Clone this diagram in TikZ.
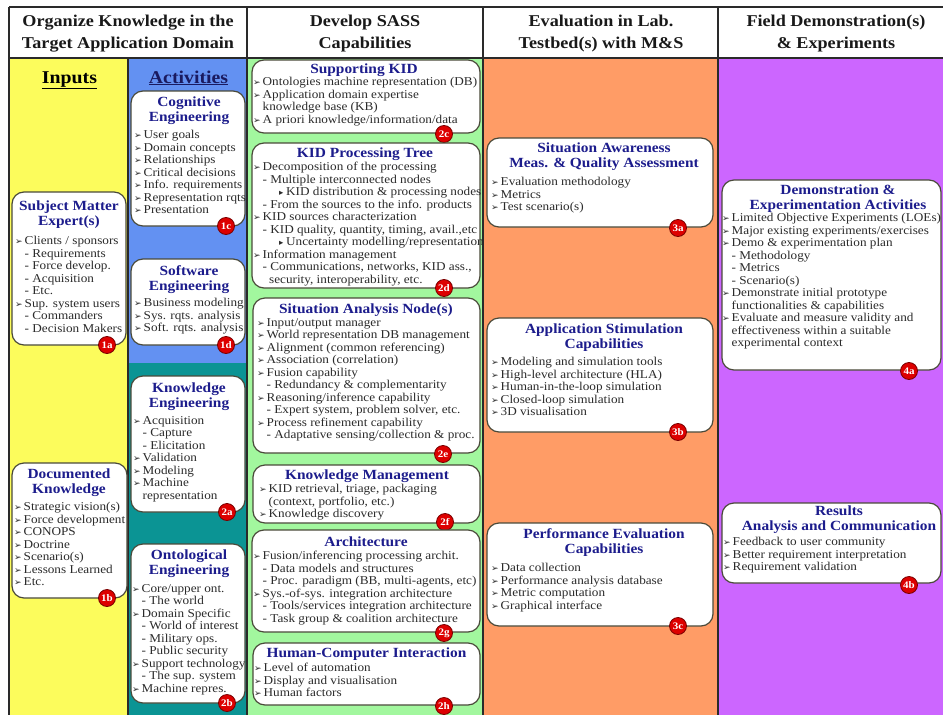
\documentclass[tikz,border=0pt]{standalone}
\usepackage{fontspec}
\setmainfont[FakeStretch=1.1]{Liberation Serif}
\newfontfamily\dvfont{DejaVu Sans}
\usetikzlibrary{fit}
\definecolor{cyellow}{HTML}{FCFC5C}
\definecolor{cblue}{HTML}{6391F2}
\definecolor{cteal}{HTML}{0B9494}
\definecolor{cgreen}{HTML}{A2F79E}
\definecolor{corange}{HTML}{FF9C66}
\definecolor{cpurple}{HTML}{CC66FF}
\definecolor{ttlblue}{HTML}{1C1C8C}
\definecolor{bodygray}{HTML}{2B2B2B}
\definecolor{cardline}{HTML}{4A4A3A}
\definecolor{badgered}{HTML}{DD0000}
\definecolor{badgedark}{HTML}{7A0000}
\definecolor{gridc}{HTML}{2A2A2A}
\definecolor{actnavy}{HTML}{1A1A60}
\newcommand\bl{\makebox[9.5pt][l]{\dvfont\fontsize{9}{9}\selectfont ➢}}
\newcommand\subi{\hspace*{9.5pt}}
\newcommand\contl{\hspace*{16pt}}
\newcommand\subsub{\hspace*{26pt}\makebox[7pt][l]{\dvfont\fontsize{8.5}{8.5}\selectfont ▸}}
\begin{document}
\begin{tikzpicture}[x=1pt,y=-1pt,
  gridline/.style={draw=gridc, line width=1.3pt},
  card/.style={draw=cardline, fill=white, rounded corners=12pt, line width=1.2pt, inner sep=0pt},
  ttl/.style={inner sep=0pt, anchor=north, align=center, text=ttlblue, font=\bfseries\fontsize{14}{15}\selectfont, execute at begin node=\strut},
  itemsx/.style={inner sep=0pt, anchor=north west, align=left, text=bodygray, font=\fontsize{12}{12.5}\selectfont, execute at begin node=\strut},
  badge/.style={circle, fill=badgered, draw=badgedark, line width=0.8pt, minimum size=17pt, inner sep=0pt, text=white, font=\bfseries\fontsize{10}{10}\selectfont},
  hdr/.style={inner sep=0pt, align=center, text=black!90, font=\bfseries\fontsize{16.5}{22}\selectfont},
  coltitle/.style={inner sep=0pt, anchor=base, font=\bfseries\fontsize{18}{20}\selectfont}
]
\useasboundingbox (0,0) rectangle (943,715);
\clip (0,0) rectangle (943,715);
\fill[white] (0,0) rectangle (943,715);
% column backgrounds
\fill[cyellow] (9,58) rectangle (128,716);
\fill[cblue] (128,58) rectangle (247,363);
\fill[cteal] (128,363) rectangle (247,716);
\fill[cgreen] (247,58) rectangle (483,716);
\fill[corange] (483,58) rectangle (718,716);
\fill[cpurple] (718,58) rectangle (960,716);
\draw[gridline] (9,7) -- (960,7) (9,58) -- (960,58)
  (9,7) -- (9,716) (247,7) -- (247,716) (483,7) -- (483,716)
  (718,7) -- (718,716) (128,58) -- (128,716);
% headers
\node[hdr] (h1) at (128,34) {Organize Knowledge in the\\Target Application Domain};
\node[hdr] (h2) at (365,34) {Develop SASS\\Capabilities};
\node[hdr] (h3) at (601,34) {Evaluation in Lab.\\Testbed(s) with M\&S};
\node[hdr] (h4) at (836,34) {Field Demonstration(s)\\\& Experiments};
\node[coltitle, text=black] (inp) at (69.5,83) {\underline{Inputs}};
\node[coltitle, text=actnavy] (act) at (188.5,83) {\underline{Activities}};

% ---- 1a
\node[card, fit={(12,192) (126,345)}] (c1a) {};
\node[ttl] (t1a) at (69,201) {Subject Matter\\Expert(s)};
\node[itemsx] (i1a) at (15,236) {\bl Clients / sponsors\\\subi- Requirements\\\subi- Force develop.\\\subi- Acquisition\\\subi- Etc.\\\bl Sup. system users\\\subi- Commanders\\\subi- Decision Makers};
\node[badge] (k1a) at (107,345) {1a};
% ---- 1b
\node[card, fit={(12,463) (127,598)}] (c1b) {};
\node[ttl] (t1b) at (69,469) {Documented\\Knowledge};
\node[itemsx] (i1b) at (14,502) {\bl Strategic vision(s)\\\bl Force development\\\bl CONOPS\\\bl Doctrine\\\bl Scenario(s)\\\bl Lessons Learned\\\bl Etc.};
\node[badge] (k1b) at (107,598) {1b};
% ---- 1c
\node[card, fit={(131,91) (245,226)}] (c1c) {};
\node[ttl] (t1c) at (189,97) {Cognitive\\Engineering};
\node[itemsx] (i1c) at (134,130) {\bl User goals\\\bl Domain concepts\\\bl Relationships\\\bl Critical decisions\\\bl Info. requirements\\\bl Representation rqts\\\bl Presentation};
\node[badge] (k1c) at (226,226) {1c};
% ---- 1d
\node[card, fit={(131,259) (245,345)}] (c1d) {};
\node[ttl] (t1d) at (189,265) {Software\\Engineering};
\node[itemsx] (i1d) at (134,298) {\bl Business modeling\\\bl Sys. rqts. analysis\\\bl Soft. rqts. analysis};
\node[badge] (k1d) at (226,345) {1d};
% ---- 2a
\node[card, fit={(131,376) (245,512)}] (c2a) {};
\node[ttl] (t2a) at (189,383) {Knowledge\\Engineering};
\node[itemsx] (i2a) at (133,416) {\bl Acquisition\\\subi- Capture\\\subi- Elicitation\\\bl Validation\\\bl Modeling\\\bl Machine\\\subi representation};
\node[badge] (k2a) at (227,512) {2a};
% ---- 2b
\node[card, fit={(131,544) (245,703)}] (c2b) {};
\node[ttl] (t2b) at (189,550) {Ontological\\Engineering};
\node[itemsx] (i2b) at (132,584) {\bl Core/upper ont.\\\subi- The world\\\bl Domain Specific\\\subi- World of interest\\\subi- Military ops.\\\subi- Public security\\\bl Support technology\\\subi- The sup. system\\\bl Machine repres.};
\node[badge] (k2b) at (227,703) {2b};
% ---- 2c
\node[card, fit={(252,60) (480,133)}] (c2c) {};
\node[ttl] (t2c) at (364,63) {Supporting KID};
\node[itemsx] (i2c) at (253,77) {\bl Ontologies machine representation (DB)\\\bl Application domain expertise\\\subi knowledge base (KB)\\\bl A priori knowledge/information/data};
\node[badge] (k2c) at (444,134) {2c};
% ---- 2d
\node[card, fit={(252,143) (480,288)}] (c2d) {};
\node[ttl] (t2d) at (365,147) {KID Processing Tree};
\node[itemsx] (i2d) at (253,162) {\bl Decomposition of the processing\\\subi- Multiple interconnected nodes\\\subsub KID distribution \& processing nodes\\\subi- From the sources to the info. products\\\bl KID sources characterization\\\subi- KID quality, quantity, timing, avail.,etc\\\subsub Uncertainty modelling/representation\\\bl Information management\\\subi- Communications, networks, KID ass.,\\\contl security, interoperability, etc.};
\node[badge] (k2d) at (444,288) {2d};
% ---- 2e
\node[card, fit={(253,298) (480,453)}] (c2e) {};
\node[ttl] (t2e) at (366,303) {Situation Analysis Node(s)};
\node[itemsx] (i2e) at (257,318) {\bl Input/output manager\\\bl World representation DB management\\\bl Alignment (common referencing)\\\bl Association (correlation)\\\bl Fusion capability\\\subi- Redundancy \& complementarity\\\bl Reasoning/inference capability\\\subi- Expert system, problem solver, etc.\\\bl Process refinement capability\\\subi- Adaptative sensing/collection \& proc.};
\node[badge] (k2e) at (443,454) {2e};
% ---- 2f
\node[card, fit={(253,465) (480,523)}] (c2f) {};
\node[ttl] (t2f) at (367,469) {Knowledge Management};
\node[itemsx] (i2f) at (259,484) {\bl KID retrieval, triage, packaging\\\subi(context, portfolio, etc.)\\\bl Knowledge discovery};
\node[badge] (k2f) at (445,522) {2f};
% ---- 2g
\node[card, fit={(252,530) (480,632)}] (c2g) {};
\node[ttl] (t2g) at (366,536) {Architecture};
\node[itemsx] (i2g) at (253,551) {\bl Fusion/inferencing processing archit.\\\subi- Data models and structures\\\subi- Proc. paradigm (BB, multi-agents, etc)\\\bl Sys.-of-sys. integration architecture\\\subi- Tools/services integration architecture\\\subi- Task group \& coalition architecture};
\node[badge] (k2g) at (444,633) {2g};
% ---- 2h
\node[card, fit={(253,643) (480,705)}] (c2h) {};
\node[ttl] (t2h) at (366.5,647) {Human-Computer Interaction};
\node[itemsx] (i2h) at (254,663) {\bl Level of automation\\\bl Display and visualisation\\\bl Human factors};
\node[badge] (k2h) at (444,706) {2h};
% ---- 3a
\node[card, fit={(487,138) (713,227)}] (c3a) {};
\node[ttl] (t3a) at (604,143) {Situation Awareness\\Meas. \& Quality Assessment};
\node[itemsx] (i3a) at (491,177) {\bl Evaluation methodology\\\bl Metrics\\\bl Test scenario(s)};
\node[badge] (k3a) at (678,228) {3a};
% ---- 3b
\node[card, fit={(487,318) (713,432)}] (c3b) {};
\node[ttl] (t3b) at (604,324) {Application Stimulation\\Capabilities};
\node[itemsx] (i3b) at (491,357) {\bl Modeling and simulation tools\\\bl High-level architecture (HLA)\\\bl Human-in-the-loop simulation\\\bl Closed-loop simulation\\\bl 3D visualisation};
\node[badge] (k3b) at (678,432) {3b};
% ---- 3c
\node[card, fit={(487,523) (713,626)}] (c3c) {};
\node[ttl] (t3c) at (604,528) {Performance Evaluation\\Capabilities};
\node[itemsx] (i3c) at (491,563) {\bl Data collection\\\bl Performance analysis database\\\bl Metric computation\\\bl Graphical interface};
\node[badge] (k3c) at (678,626) {3c};
% ---- 4a
\node[card, fit={(722,180) (941,370)}] (c4a) {};
\node[ttl] (t4a) at (838,185) {Demonstration \&\\Experimentation Activities};
\node[itemsx] (i4a) at (722,213) {\bl Limited Objective Experiments (LOEs)\\\bl Major existing experiments/exercises\\\bl Demo \& experimentation plan\\\subi- Methodology\\\subi- Metrics\\\subi- Scenario(s)\\\bl Demonstrate initial prototype\\\subi functionalities \& capabilities\\\bl Evaluate and measure validity and\\\subi effectiveness within a suitable\\\subi experimental context};
\node[badge] (k4a) at (909,371) {4a};
% ---- 4b
\node[card, fit={(722,503) (941,583)}] (c4b) {};
\node[ttl] (t4b) at (839,506) {Results\\Analysis and Communication};
\node[itemsx] (i4b) at (723,537) {\bl Feedback to user community\\\bl Better requirement interpretation\\\bl Requirement validation};
\node[badge] (k4b) at (909,585) {4b};
\end{tikzpicture}
\end{document}
